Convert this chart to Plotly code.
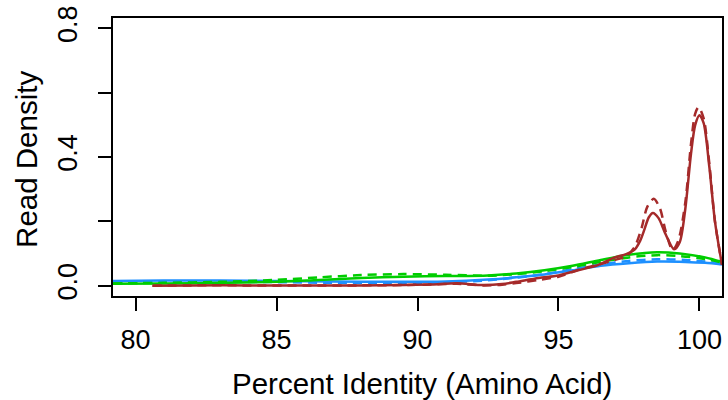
import plotly.graph_objects as go

# Percent identity grid points and read densities for each sample
red_x = [80.6, 82.0, 84.0, 86.0, 88.0, 89.5, 90.5, 91.4, 92.3, 93.0, 93.5, 94.3,
         95.0, 95.8, 96.4, 97.0, 97.4, 97.7, 97.9, 98.05, 98.2, 98.35, 98.55, 98.8,
         99.1, 99.3, 99.5, 99.7, 99.85, 100.0, 100.15, 100.35, 100.55, 100.8]
red_solid = [0.000, 0.001, 0.001, 0.001, 0.001, 0.002, 0.004, 0.0075, 0.002, 0.005, 0.012, 0.024,
             0.032, 0.050, 0.064, 0.088, 0.098, 0.112, 0.140, 0.175, 0.212, 0.226, 0.210, 0.160,
             0.113, 0.135, 0.240, 0.410, 0.500, 0.530, 0.505, 0.370, 0.200, 0.065]

red_dash_x = [80.6, 82.0, 84.0, 86.0, 88.0, 89.5, 90.5, 91.4, 92.3, 93.0, 93.5, 94.3,
              95.0, 95.8, 96.4, 97.0, 97.4, 97.7, 97.95, 98.15, 98.38, 98.6, 98.8,
              99.05, 99.25, 99.5, 99.7, 99.85, 99.97, 100.15, 100.35, 100.55, 100.8]
red_dashed = [0.000, 0.001, 0.001, 0.001, 0.001, 0.002, 0.004, 0.006, 0.001, 0.003, 0.008, 0.018,
              0.028, 0.052, 0.065, 0.080, 0.092, 0.120, 0.180, 0.245, 0.270, 0.240, 0.170,
              0.110, 0.140, 0.260, 0.440, 0.535, 0.555, 0.520, 0.380, 0.200, 0.065]

grn_x = [79.2, 81.0, 83.0, 85.0, 86.5, 88.0, 89.5, 91.0, 92.5, 93.5, 94.5, 95.5,
         96.5, 97.5, 98.5, 99.3, 100.2, 100.8]
grn_solid = [0.006, 0.007, 0.009, 0.012, 0.018, 0.024, 0.028, 0.030, 0.032, 0.038, 0.048, 0.062,
             0.080, 0.096, 0.104, 0.100, 0.088, 0.074]
grn_dashed = [0.007, 0.009, 0.012, 0.018, 0.026, 0.033, 0.036, 0.034, 0.031, 0.036, 0.045, 0.058,
              0.074, 0.088, 0.095, 0.092, 0.083, 0.072]

blu_x = [79.2, 81.0, 83.0, 85.0, 87.0, 89.0, 91.0, 92.5, 93.5, 94.5, 95.5, 96.5,
         97.5, 98.5, 99.5, 100.2, 100.8]
blu_solid = [0.015, 0.016, 0.016, 0.015, 0.013, 0.012, 0.013, 0.019, 0.026, 0.035, 0.048, 0.062,
             0.070, 0.075, 0.074, 0.071, 0.066]
blu_dashed = [0.011, 0.012, 0.012, 0.011, 0.009, 0.008, 0.010, 0.017, 0.025, 0.036, 0.051, 0.066,
              0.077, 0.082, 0.080, 0.075, 0.068]

x_ticks = [80, 85, 90, 95, 100]
y_ticks = [0.0, 0.2, 0.4, 0.6, 0.8]
y_tick_text = ["0.0", "", "0.4", "", "0.8"]

RED = "#A52A2A"
GREEN = "#00CD00"
BLUE = "#1E90FF"
LW = 2.5
DASH = "9px,6px"

fig = go.Figure()
series = [
    (blu_x, blu_solid, BLUE, "solid"),
    (blu_x, blu_dashed, BLUE, DASH),
    (grn_x, grn_solid, GREEN, "solid"),
    (grn_x, grn_dashed, GREEN, DASH),
    (red_x, red_solid, RED, "solid"),
    (red_dash_x, red_dashed, RED, DASH),
]
for xs, ys, col, dash in series:
    fig.add_trace(go.Scatter(
        x=xs, y=ys, mode="lines",
        line=dict(color=col, width=LW, dash=dash, shape="spline", smoothing=0.8),
        showlegend=False, hoverinfo="skip",
    ))

font_family = "Liberation Sans, Arial, Helvetica, sans-serif"

fig.update_layout(
    width=728, height=400,
    margin=dict(l=113, r=4, t=18, b=104),
    paper_bgcolor="white", plot_bgcolor="white",
    font=dict(family=font_family, color="black", size=27),
    xaxis=dict(
        range=[79.2, 100.8], tickvals=x_ticks, ticktext=[str(v) for v in x_ticks],
        showgrid=False, zeroline=False, showline=True, mirror=True,
        linecolor="black", linewidth=1.5, ticks="outside", ticklen=13,
        tickwidth=1.5, tickcolor="black", tickfont=dict(size=27),
        ticklabelstandoff=6,
    ),
    yaxis=dict(
        range=[-0.032, 0.832], tickvals=y_ticks, ticktext=y_tick_text,
        showgrid=False, zeroline=False, showline=True, mirror=True,
        linecolor="black", linewidth=1.5, ticks="outside", ticklen=13,
        tickwidth=1.5, tickcolor="black", tickfont=dict(size=27),
        tickangle=-90, ticklabelstandoff=10,
    ),
    annotations=[
        dict(text="Percent Identity (Amino Acid)", xref="paper", yref="paper",
             x=0.508, y=-0.313, xanchor="center", yanchor="middle",
             showarrow=False, font=dict(size=29.5)),
        dict(text="Read Density", xref="paper", yref="paper",
             x=-0.141, y=0.49, xanchor="center", yanchor="middle",
             textangle=-90, showarrow=False, font=dict(size=29.5)),
    ],
)

fig.write_html("out.html")
